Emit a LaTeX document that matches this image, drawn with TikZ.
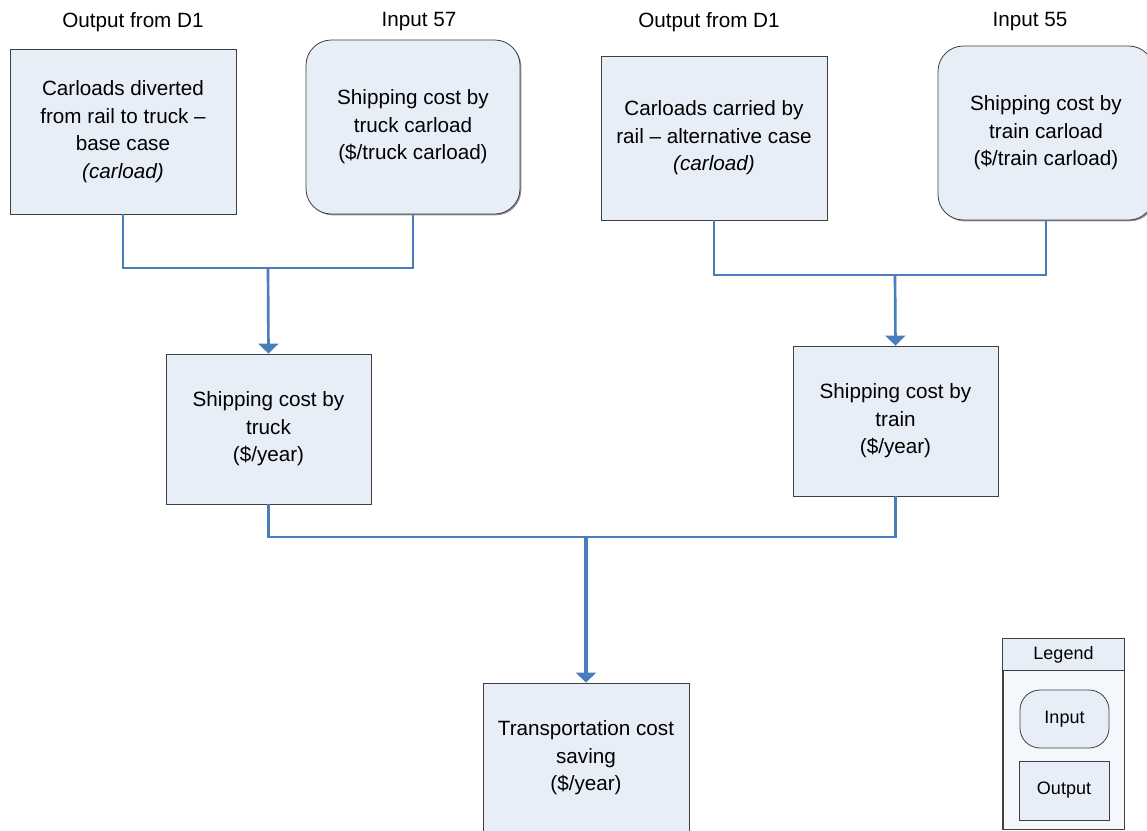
\documentclass[tikz,border=0pt]{standalone}
\usepackage{fontspec}
\setmainfont{Liberation Sans}
\usetikzlibrary{arrows.meta,shadows}
\definecolor{boxfill}{HTML}{E8EEF8}
\definecolor{legfill}{HTML}{F4F7FC}
\definecolor{linkblue}{HTML}{4A7EBB}
\definecolor{edge}{HTML}{404040}
\tikzset{
  plainbox/.style={draw=edge, line width=0.6pt, fill=boxfill, align=center, inner sep=2pt,
    font=\fontsize{15.5}{20.6}\selectfont},
  basebox/.style={plainbox,
    drop shadow={shadow xshift=1pt, shadow yshift=-1pt, fill=black!60, opacity=0.7}},
  outbox/.style={basebox, rectangle},
  inbox/.style={basebox, rectangle, rounded corners=19pt},
  toplabel/.style={font=\fontsize{15.5}{20.6}\selectfont, inner sep=0pt},
  thinlink/.style={draw=linkblue, line width=1.1pt},
  arrowlink/.style={draw=linkblue, line width=2pt, -{Triangle[width=15pt,length=7.5pt]}},
  thicklink/.style={draw=linkblue, line width=2.2pt},
  legtext/.style={font=\fontsize{13.5}{16}\selectfont, inner sep=0pt}
}
\begin{document}
\begin{tikzpicture}[x=0.75pt,y=-0.75pt]
\clip (0,0) rectangle (1147,831);
\fill[white] (0,0) rectangle (1147,831);

% top labels
\node[toplabel] (l1) at (133,22) {Output from D1};
\node[toplabel] (l2) at (419,22) {Input 57};
\node[toplabel] (l3) at (709,22) {Output from D1};
\node[toplabel] (l4) at (1030,22) {Input 55};

% boxes
\node[outbox, minimum width=169.5pt, minimum height=123.75pt] (A) at (123,131.5)
  {Carloads diverted\\from rail to truck --\\base case\\\textit{(carload)}};
\node[inbox, minimum width=160.5pt, minimum height=130.5pt] (B) at (413,127)
  {Shipping cost by\\truck carload\\(\$/truck carload)};
\node[outbox, minimum width=169.5pt, minimum height=123pt] (C) at (714,138)
  {Carloads carried by\\rail -- alternative case\\\textit{(carload)}};
\node[inbox, minimum width=162pt, minimum height=130.5pt] (D) at (1046,133)
  {Shipping cost by\\train carload\\(\$/train carload)};
\node[outbox, minimum width=153.75pt, minimum height=112.5pt] (E) at (268.5,429)
  {Shipping cost by\\truck\\(\$/year)};
\node[outbox, minimum width=153.75pt, minimum height=112.5pt] (F) at (895.5,421)
  {Shipping cost by\\train\\(\$/year)};
\node[outbox, minimum width=154.5pt, minimum height=112.5pt] (G) at (586,758)
  {Transportation cost\\saving\\(\$/year)};

% junctions
\coordinate (j1) at (268,268);
\coordinate (j2) at (895,275);
\coordinate (j3) at (586,537);

% connectors
\draw[thinlink] (A.south) |- (j1);
\draw[thinlink] (B.south) |- (j1);
\draw[arrowlink] (j1) -- (E.north);
\draw[thinlink] (C.south) |- (j2);
\draw[thinlink] (D.south) |- (j2);
\draw[arrowlink] (j2) -- (F.north);
\draw[thicklink] (E.south) |- (j3);
\draw[thicklink] (F.south) |- (j3);
\draw[arrowlink, line width=2.6pt] (j3) -- (G.north);

% legend
\node[draw=edge, line width=0.6pt, fill=legfill, minimum width=90.75pt, minimum height=142.5pt, inner sep=0pt] (leg) at (1063.5,734) {};
\coordinate (hl) at (1003,670);
\coordinate (hr) at (1124,670);
\fill[boxfill] (leg.north west) rectangle (hr);
\draw[edge, line width=0.6pt] (leg.north west) rectangle (leg.south east);
\draw[edge, line width=0.6pt] (hl) -- (hr);
\node[legtext] (legt) at (1063.5,655) {Legend};
\node[plainbox, legtext, rounded corners=15pt, minimum width=66.75pt, minimum height=43.5pt] (li) at (1064.5,719) {Input};
\node[plainbox, legtext, minimum width=67.5pt, minimum height=44.25pt] (lo) at (1064,790.5) {Output};
\end{tikzpicture}
\end{document}
